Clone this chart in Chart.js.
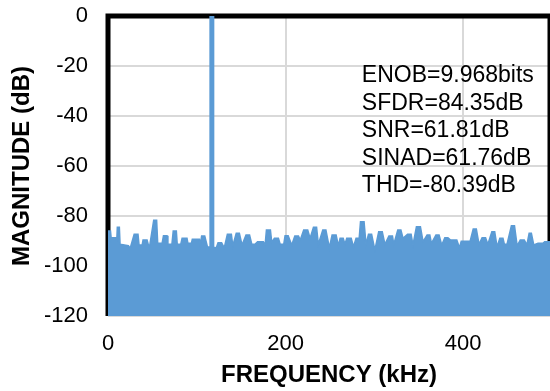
<!DOCTYPE html>
<html>
<head>
<meta charset="utf-8">
<script src="https://cdn.jsdelivr.net/npm/chart.js@4/dist/chart.umd.min.js"></script>
<style>
html,body{margin:0;padding:0;background:#fff;}
canvas{display:block;}
</style>
</head>
<body>
<canvas id="c" width="550" height="391"></canvas>
<script>
// Noise floor envelope (kHz, dB)
const noiseFreq = [0, 2.8, 3.8, 5, 9, 9.8, 10.5, 12.8, 13.6, 23, 25, 29.5, 33.8, 35, 38.5, 39.5, 44, 46.5, 51.5, 54.8, 56, 61, 62.5, 66.5, 67.5, 72, 73.5, 77, 78, 82, 83.5, 89, 90, 94, 95, 103, 104, 105.5, 109, 112,
  122, 124, 128, 131, 134.5, 139, 140.6, 144.5, 148, 151, 155.5, 159.5, 162, 165.6, 168.5, 175, 177, 178.5, 183, 184.5, 187.5, 192, 194, 198, 199.5, 203, 207, 210.5, 214.6, 216.6, 220.5, 225, 227.7, 231.5, 235, 237, 242, 245.5, 249.4,
  252.5, 257, 259.6, 261.5, 265, 267, 269, 274, 276.6, 279.5, 283, 284.5, 288.5, 290.7, 293.5, 297, 300.7, 305, 309, 312, 316.5, 320.5, 322, 326.5, 330, 332.4, 337.5, 341.5, 343.6, 347.5, 352, 355, 359.5, 362.6, 364.4, 369.5, 373, 376,
  379.5, 383, 386, 390, 393, 396, 398, 408, 411.5, 415, 418, 421.5, 425.4, 428, 432.5, 435.7, 438.4, 441.5, 445, 446.6, 449.6, 454.5, 458, 461, 464.5, 469, 472, 474.5, 477, 479.7, 484.5, 490, 492, 498];
const noiseMag = [-86.0, -86.0, -89.6, -88.7, -88.7, -90.5, -84.5, -84.5, -91.3, -91.9, -92.9, -87.3, -87.3, -91.6, -91.6, -89.6, -89.6, -92.9, -81.7, -81.7, -90.9, -90.9, -87.9, -87.9, -91.3, -91.3, -86.0, -86.0, -91.3, -91.3, -88.9, -88.9, -90.9, -90.9, -89.3, -89.3, -91.5, -88.0, -88.0, -92.3,
  -92.7, -90.7, -90.7, -92.7, -87.3, -87.3, -91.9, -86.9, -86.9, -91.6, -87.6, -87.6, -91.3, -91.3, -90.3, -90.3, -91.6, -85.6, -85.6, -90.5, -88.9, -88.9, -91.3, -91.3, -87.9, -87.9, -91.6, -88.0, -88.0, -89.6, -85.6, -85.6, -88.9, -84.5, -84.5, -91.3, -85.6, -85.6, -92.7,
  -87.6, -87.6, -91.9, -88.9, -88.9, -91.3, -88.9, -88.9, -92.3, -88.9, -88.9, -82.3, -82.3, -91.3, -87.3, -87.3, -93.6, -86.3, -86.3, -91.3, -88.0, -88.0, -91.3, -85.6, -85.6, -88.9, -87.3, -87.3, -91.6, -84.3, -84.3, -90.3, -87.6, -87.6, -90.9, -87.6, -87.6, -91.6,
  -88.7, -88.7, -89.6, -89.6, -89.6, -92.7, -90.1, -90.1, -85.2, -85.2, -91.3, -88.7, -88.7, -91.3, -86.3, -86.3, -92.3, -88.9, -88.9, -91.3, -91.3, -83.9, -83.9, -91.9, -89.6, -89.6, -91.5, -86.9, -86.9, -91.6, -90.9, -90.9, -90.3, -90.3];
// Fundamental tone
const toneFreq = [117, 117];
const toneMag = [-120, 0];
// Axes
const xMin = 0, xMax = 498, xStep = 200;
const yMin = -120, yMax = 0, yStep = 20;
// Annotation text
const statsLines = ["ENOB=9.968bits", "SFDR=84.35dB", "SNR=61.81dB", "SINAD=61.76dB", "THD=-80.39dB"];
const statsX = 286;        // kHz
const statsY0 = -26.4;     // dB baseline of first line
const statsStep = 11;      // dB between lines

const FONT = "'Liberation Sans', Arial, sans-serif";
const BLUE = '#5B9BD5';
const GRID = '#D9D9D9';

const frame = {
  id: 'frame',
  beforeDatasetsDraw(chart) {
    const {ctx, chartArea: a} = chart;
    ctx.save();
    ctx.strokeStyle = '#000';
    ctx.lineWidth = 5;
    ctx.beginPath();
    ctx.moveTo(a.left, a.bottom);
    ctx.lineTo(a.left, a.top);
    ctx.lineTo(a.right, a.top);
    ctx.lineTo(a.right, a.bottom);
    ctx.stroke();
    ctx.restore();
  },
  afterDraw(chart) {
    const {ctx} = chart;
    const xs = chart.scales.x, ys = chart.scales.y;
    ctx.save();
    ctx.fillStyle = '#000';
    ctx.font = '23px ' + FONT;
    ctx.textAlign = 'left';
    ctx.textBaseline = 'alphabetic';
    statsLines.forEach((t, i) => {
      ctx.fillText(t, xs.getPixelForValue(statsX), ys.getPixelForValue(statsY0 - i * statsStep));
    });
    ctx.restore();
  }
};

new Chart(document.getElementById('c'), {
  type: 'line',
  data: {
    datasets: [
      {
        data: toneFreq.map((f, i) => ({x: f, y: toneMag[i]})),
        borderColor: BLUE,
        borderWidth: 5,
        pointRadius: 0,
        fill: false,
        borderCapStyle: 'butt'
      },
      {
        data: noiseFreq.map((f, i) => ({x: f, y: noiseMag[i]})),
        borderColor: BLUE,
        backgroundColor: BLUE,
        borderWidth: 1.5,
        pointRadius: 0,
        fill: 'start',
        tension: 0
      }
    ]
  },
  options: {
    responsive: false,
    animation: false,
    devicePixelRatio: 1,
    layout: {padding: {top: 16, right: 0, left: 0, bottom: 0}},
    plugins: {legend: {display: false}, tooltip: {enabled: false}},
    scales: {
      x: {
        type: 'linear',
        min: xMin, max: xMax,
        border: {display: false},
        grid: {color: GRID, lineWidth: 2, drawTicks: true, tickLength: 15, tickColor: 'rgba(0,0,0,0)'},
        ticks: {stepSize: xStep, includeBounds: false, padding: 0, color: '#000', font: {family: FONT, size: 22}},
        title: {display: true, text: 'FREQUENCY (kHz)', color: '#000', padding: {top: 0, bottom: 1}, font: {family: FONT, size: 24, weight: 'bold'}},
        afterFit(s) { s.height = 75; }
      },
      y: {
        type: 'linear',
        min: yMin, max: yMax,
        border: {display: false},
        grid: {color: GRID, lineWidth: 2, drawTicks: true, tickLength: 20, tickColor: 'rgba(0,0,0,0)'},
        ticks: {stepSize: yStep, padding: 0, color: '#000', font: {family: FONT, size: 22}},
        title: {display: true, text: 'MAGNITUDE (dB)', color: '#000', padding: {top: 8, bottom: 0}, font: {family: FONT, size: 24, weight: 'bold'}},
        afterFit(s) { s.width = 108; }
      }
    }
  },
  plugins: [frame]
});
</script>
</body>
</html>
